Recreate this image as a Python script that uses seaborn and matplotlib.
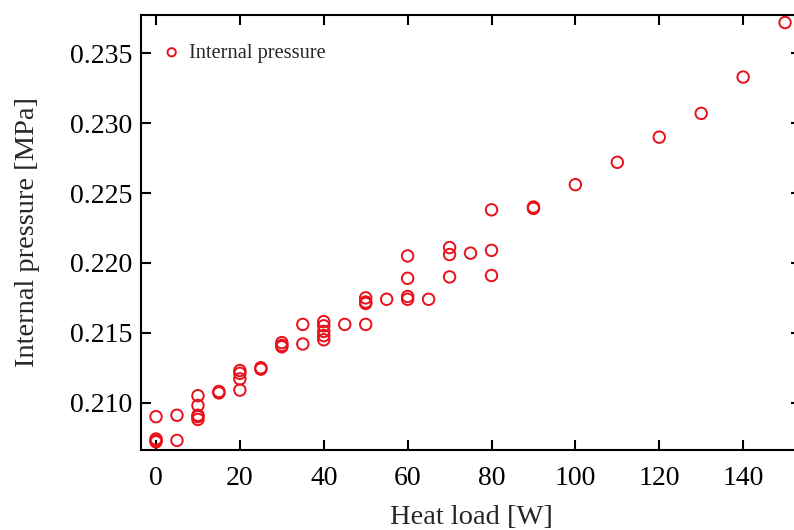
import matplotlib
matplotlib.use("Agg")
import matplotlib.pyplot as plt
import seaborn as sns
import pandas as pd

# Heat load [W] and measured internal pressure [MPa]
heat_load = [
    0, 0, 0, 0,
    5, 5,
    10, 10, 10, 10, 10,
    15, 15,
    20, 20, 20, 20,
    25, 25,
    30, 30, 30,
    35, 35,
    40, 40, 40, 40, 40,
    45,
    50, 50, 50, 50,
    55,
    60, 60, 60, 60,
    65,
    70, 70, 70,
    75,
    80, 80, 80,
    90, 90,
    100, 110, 120, 130, 140, 150,
]
internal_pressure = [
    0.2090, 0.2074, 0.2073, 0.2072,
    0.2091, 0.2073,
    0.2105, 0.2098, 0.2091, 0.2090, 0.2088,
    0.2107, 0.2108,
    0.2123, 0.2121, 0.2117, 0.2109,
    0.2125, 0.2124,
    0.2143, 0.2141, 0.2140,
    0.2156, 0.2142,
    0.2158, 0.2155, 0.2151, 0.2148, 0.2145,
    0.2156,
    0.2175, 0.2172, 0.2171, 0.2156,
    0.2174,
    0.2205, 0.2189, 0.2176, 0.2174,
    0.2174,
    0.2211, 0.2206, 0.2190,
    0.2207,
    0.2238, 0.2209, 0.2191,
    0.2239, 0.2240,
    0.2256, 0.2272, 0.2290, 0.2307, 0.2333, 0.2372,
]

x_ticks = [0, 20, 40, 60, 80, 100, 120, 140]
y_ticks = [0.210, 0.215, 0.220, 0.225, 0.230, 0.235]
y_tick_labels = ["0.210", "0.215", "0.220", "0.225", "0.230", "0.235"]

df = pd.DataFrame({"Heat load": heat_load, "Internal pressure": internal_pressure})

sns.set_style("ticks")
plt.rcParams["font.family"] = ["Liberation Serif", "DejaVu Serif"]
plt.rcParams["mathtext.fontset"] = "stix"

red = "#e8101a"

fig = plt.figure(figsize=(7.94, 5.30), dpi=100)
ax = fig.add_axes([141 / 794, 1 - 449.5 / 530, 660 / 794, 434.5 / 530])

sns.scatterplot(
    data=df, x="Heat load", y="Internal pressure", ax=ax,
    marker="o", s=68, facecolors="none", edgecolor=red, linewidth=1.4,
    label="Internal pressure",
)

ax.set_xlim(-3.58, 153.8)
ax.set_ylim(0.20665, 0.23774)
ax.set_xticks(x_ticks)
ax.set_yticks(y_ticks)
ax.set_yticklabels(y_tick_labels)

ax.set_xlabel("Heat load [W]", fontsize=20.5, labelpad=10)
ax.set_ylabel("Internal pressure [MPa]", fontsize=20.5, labelpad=21)

for side in ["left", "right", "top", "bottom"]:
    ax.spines[side].set_visible(True)
    ax.spines[side].set_linewidth(1.5)
    ax.spines[side].set_color("black")

ax.tick_params(axis="both", which="major", direction="in", length=7, width=1.5,
               colors="black", labelsize=20)
ax.tick_params(axis="x", top=True, pad=12)
ax.tick_params(axis="y", right=True, pad=6.5)

leg = ax.legend(
    loc="center left", bbox_to_anchor=(0.031, 0.9125), frameon=False,
    fontsize=14.7, handlelength=1.0, handletextpad=0.35, borderpad=0,
    borderaxespad=0, markerscale=0.72,
)

fig.savefig("out.png", dpi=100)
